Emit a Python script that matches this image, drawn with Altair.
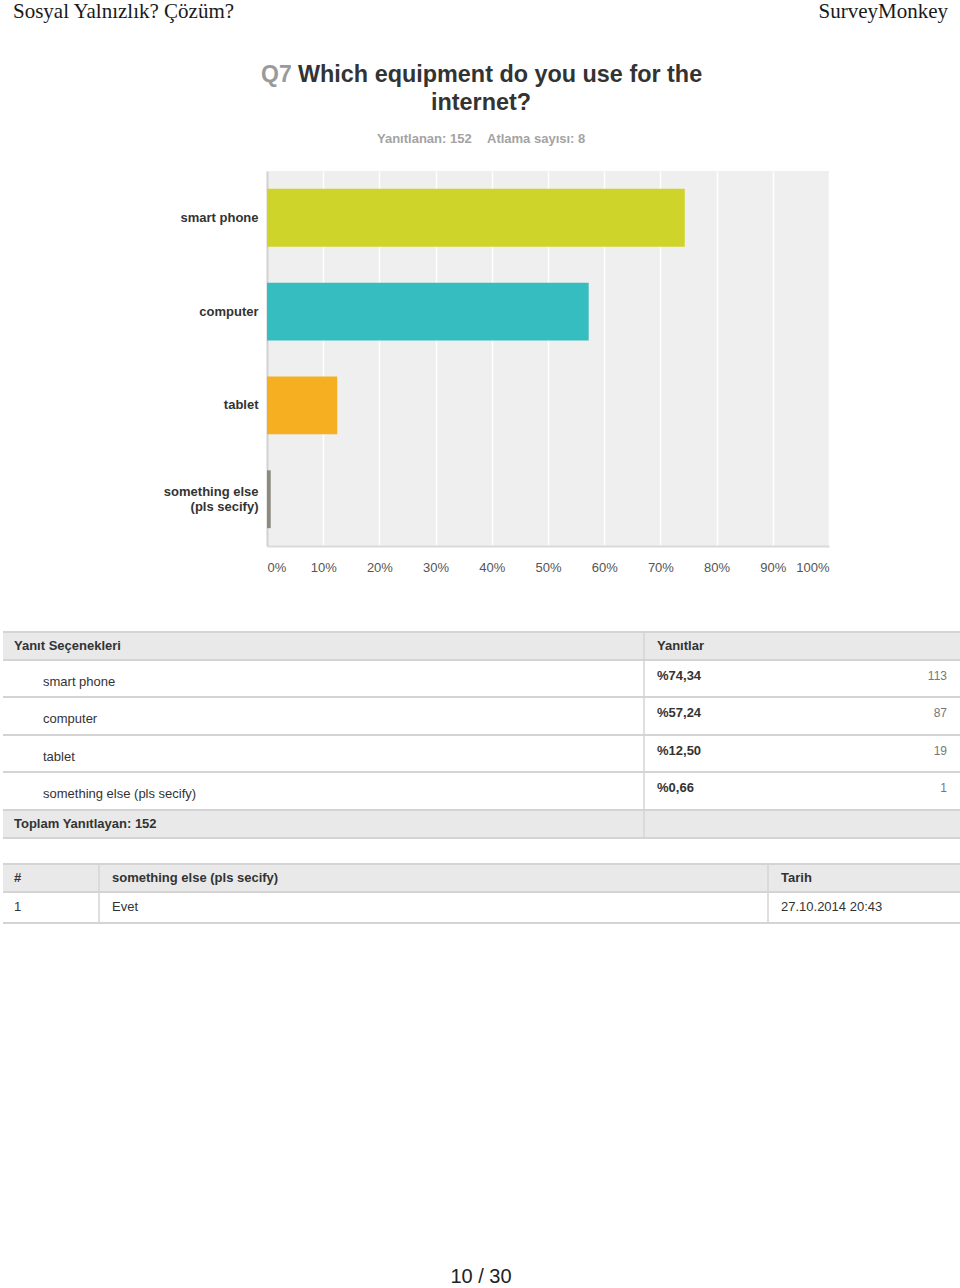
import altair as alt
import pandas as pd

# ---------------- data ----------------
page_header_left = "Sosyal Yalnızlık? Çözüm?"
page_header_right = "SurveyMonkey"
question_no = "Q7"
question_lines = ["Which equipment do you use for the", "internet?"]
answered = 152
skipped = 8
categories = ["smart phone", "computer", "tablet", "something else (pls secify)"]
shares = [74.34, 57.24, 12.50, 0.66]
counts = [113, 87, 19, 1]
bar_colors = ["#cfd42b", "#35bdc0", "#f5af21", "#8a8a7e"]
tick_values = [0, 10, 20, 30, 40, 50, 60, 70, 80, 90, 100]
other_ids = [1]
other_answers = ["Evet"]
other_dates = ["27.10.2014 20:43"]
page_label = "10 / 30"

# ---------------- layout constants ----------------
PAGE_W, PAGE_H = 960, 1288
PLOT_L, PLOT_T, PLOT_W, PLOT_H = 267, 171, 562, 375
SANS = "Liberation Sans"
SERIF = "Liberation Serif"

XS = alt.Scale(domain=[0, PAGE_W], range=[-PLOT_L, PAGE_W - PLOT_L], nice=False, zero=False)
YS = alt.Scale(domain=[0, PAGE_H], range=[-PLOT_T, PAGE_H - PLOT_T], nice=False, zero=False)


def px(field):
    return alt.X(field, type="quantitative", scale=XS, axis=None)


def py(field):
    return alt.Y(field, type="quantitative", scale=YS, axis=None)


def text_layer(rows, **mark):
    df = pd.DataFrame(rows, columns=["x", "y", "t"])
    style = dict(font=SANS, fontSize=13, color="#333333", baseline="middle", align="left")
    style.update(mark)
    return alt.Chart(df).mark_text(**style).encode(x=px("x"), y=py("y"), text="t:N")


# ---------------- bar chart ----------------
two_line = categories[3]
bar_df = pd.DataFrame({"category": categories, "share": shares})
bars = alt.Chart(bar_df).mark_bar().encode(
    x=alt.X(
        "share:Q",
        scale=alt.Scale(domain=[0, 100], nice=False),
        axis=alt.Axis(
            values=tick_values, labelExpr="datum.value + '%'", grid=True,
            gridColor="#ffffff", gridWidth=1.5, domainColor="#dadada", domainWidth=2,
            ticks=False, labelFlush=True, labelPadding=15, labelFontSize=13,
            labelColor="#555555", labelFont=SANS, title=None,
        ),
    ),
    y=alt.Y(
        "category:N", sort=categories,
        scale=alt.Scale(domain=categories, paddingInner=0.383, paddingOuter=0.19),
        axis=alt.Axis(
            labelExpr=f"datum.label == '{two_line}' ? ['something else', '(pls secify)'] : datum.label",
            labelOffset=alt.condition(f"datum.label == '{two_line}'", alt.value(-7), alt.value(0)),
            labelFontWeight="bold", labelColor="#333333", labelFontSize=13, labelFont=SANS,
            labelPadding=9, labelLineHeight=15, labelLimit=300, ticks=False, grid=False,
            domainColor="#d0d0d0", domainWidth=2, title=None,
        ),
    ),
    color=alt.Color("category:N", scale=alt.Scale(domain=categories, range=bar_colors), legend=None),
)

# ---------------- page header / title ----------------
header_l = text_layer([(13, 18, page_header_left)], font=SERIF, fontSize=21, color="#1a1a1a",
                      baseline="alphabetic")
header_r = text_layer([(948, 18, page_header_right)], font=SERIF, fontSize=21, color="#1a1a1a",
                      align="right", baseline="alphabetic")
q_no = text_layer([(261, 75, question_no)], fontSize=23, fontWeight="bold", color="#9a9a9a")
q_txt1 = text_layer([(298, 75, question_lines[0])], fontSize=23.4, fontWeight="bold", color="#333333")
q_txt2 = text_layer([(481, 103, question_lines[1])], fontSize=23.4, fontWeight="bold", color="#333333",
                    align="center")
sub = text_layer([(377, 139, f"Yanıtlanan: {answered}"), (487, 139, f"Atlama sayısı: {skipped}")],
                 fontSize=13, fontWeight="bold", color="#a3a3a3")

# ---------------- table 1 ----------------
T_L, T_R = 3, 960
COL1 = 644
t1_bounds = [632, 660, 697, 735, 772, 810, 838]
t2_bounds = [864, 892, 923]
fills = pd.DataFrame({
    "x": [T_L, T_L, T_L], "x2": [T_R, T_R, T_R],
    "y": [t1_bounds[0], t1_bounds[-2], t2_bounds[0]],
    "y2": [t1_bounds[1], t1_bounds[-1], t2_bounds[1]],
})
fill_layer = alt.Chart(fills).mark_rect(color="#e9e9e9").encode(
    x=px("x"), x2="x2:Q", y=py("y"), y2="y2:Q")

hlines = pd.DataFrame({"y": t1_bounds + t2_bounds, "x": T_L, "x2": T_R})
hline_layer = alt.Chart(hlines).mark_rule(color="#d4d4d4", strokeWidth=2).encode(
    x=px("x"), x2="x2:Q", y=py("y"))
vlines = pd.DataFrame({"x": [COL1, 99, 768], "y": [632, 864, 864], "y2": [838, 923, 923]})
vline_layer = alt.Chart(vlines).mark_rule(color="#d4d4d4", strokeWidth=1.5).encode(
    x=px("x"), y=py("y"), y2="y2:Q")

t1_head = text_layer([(14, 646, "Yanıt Seçenekleri"), (657, 646, "Yanıtlar"),
                      (14, 824, f"Toplam Yanıtlayan: {answered}")], fontWeight="bold")
row_mid = [(t1_bounds[i + 1] + t1_bounds[i + 2]) / 2 for i in range(len(categories))]
t1_names = text_layer([(43, m + 3, c) for m, c in zip(row_mid, categories)])
t1_pct = text_layer([(657, m - 3, "%" + f"{s:.2f}".replace(".", ",")) for m, s in zip(row_mid, shares)],
                    fontWeight="bold")
t1_cnt = text_layer([(947, m - 3, str(n)) for m, n in zip(row_mid, counts)],
                    fontSize=12, color="#777777", align="right")

# ---------------- table 2 ----------------
t2_head = text_layer([(14, 878, "#"), (112, 878, categories[3]), (781, 878, "Tarih")], fontWeight="bold")
t2_rows = []
for i, (n, a, d) in enumerate(zip(other_ids, other_answers, other_dates)):
    yy = 907 + i * 31
    t2_rows += [(14, yy, str(n)), (112, yy, a), (781, yy, d)]
t2_body = text_layer(t2_rows)

footer = text_layer([(481, 1277, page_label)], fontSize=20, color="#222222", align="center")

chart = alt.layer(
    bars, header_l, header_r, q_no, q_txt1, q_txt2, sub,
    fill_layer, hline_layer, vline_layer, t1_head, t1_names, t1_pct, t1_cnt,
    t2_head, t2_body, footer,
).resolve_scale(x="independent", y="independent", color="independent").properties(
    width=PLOT_W, height=PLOT_H,
    autosize=alt.AutoSizeParams(type="none"),
    padding={"left": PLOT_L, "top": PLOT_T, "right": PAGE_W - PLOT_L - PLOT_W,
             "bottom": PAGE_H - PLOT_T - PLOT_H},
    background="#ffffff",
).configure_view(fill="#efefef", stroke=None)

chart.save("out.html", embed_options={"renderer": "svg", "actions": False})
